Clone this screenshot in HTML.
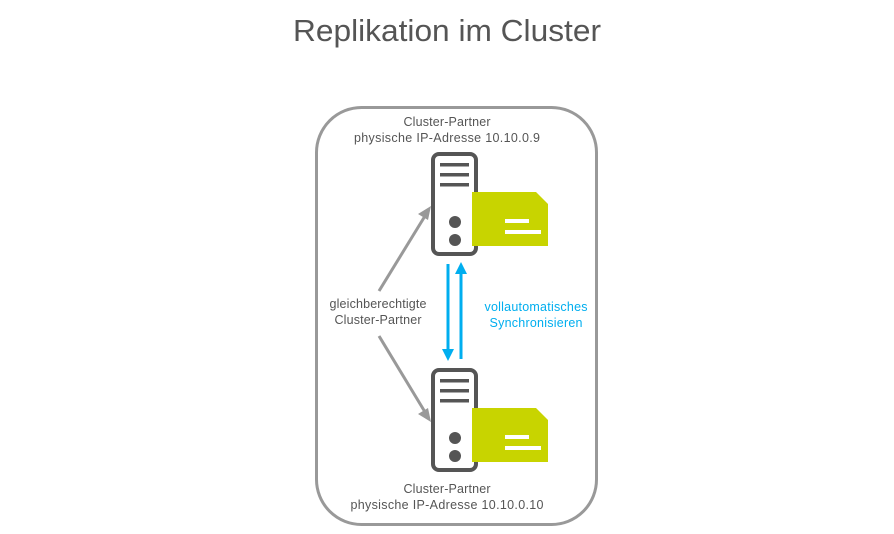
<!DOCTYPE html>
<html><head><meta charset="utf-8"><style>
body{margin:0;background:#fff;width:894px;height:529px;overflow:hidden}
svg text{font-family:"Liberation Sans",sans-serif}
</style></head><body>
<svg width="894" height="529" viewBox="0 0 894 529" xmlns="http://www.w3.org/2000/svg">
<text x="447" y="41" font-size="31" fill="#555" text-anchor="middle" textLength="308" lengthAdjust="spacingAndGlyphs">Replikation im Cluster</text>
<rect x="316.5" y="107.5" width="280" height="417" rx="45" fill="none" stroke="#999" stroke-width="3"/>
<g font-size="12.5" fill="#555" text-anchor="middle">
<text x="447" y="126" textLength="87">Cluster-Partner</text>
<text x="447" y="142" textLength="186">physische IP-Adresse  10.10.0.9</text>
<text x="447" y="493" textLength="87">Cluster-Partner</text>
<text x="447" y="509" textLength="193">physische IP-Adresse  10.10.0.10</text>
<text x="378" y="308" textLength="97">gleichberechtigte</text>
<text x="378" y="324" textLength="87">Cluster-Partner</text>
</g>
<g font-size="12.5" fill="#00aeef" text-anchor="middle">
<text x="536" y="311" textLength="103">vollautomatisches</text>
<text x="536" y="327" textLength="93">Synchronisieren</text>
</g>
<g stroke="#999" stroke-width="3" fill="#999">
<line x1="379" y1="291" x2="425" y2="216"/>
<line x1="379" y1="336" x2="425" y2="412"/>
</g>
<polygon points="431,206 418,214 428,220" fill="#999"/>
<polygon points="431,422 418,414 428,408" fill="#999"/>
<line x1="448" y1="264" x2="448" y2="350" stroke="#00aeef" stroke-width="3"/>
<polygon points="442,349 454,349 448,361" fill="#00aeef"/>
<line x1="461" y1="273" x2="461" y2="359" stroke="#00aeef" stroke-width="3"/>
<polygon points="455,274 467,274 461,262" fill="#00aeef"/>
<g id="s1">
<rect x="433" y="154" width="43" height="100" rx="6" fill="#fff" stroke="#555" stroke-width="4"/>
<rect x="440" y="163" width="29" height="3.5" fill="#555"/>
<rect x="440" y="173" width="29" height="3.5" fill="#555"/>
<rect x="440" y="183" width="29" height="3.5" fill="#555"/>
<circle cx="455" cy="222" r="6" fill="#555"/>
<circle cx="455" cy="240" r="6" fill="#555"/>
<polygon points="472,192 536,192 548,204 548,246 472,246" fill="#c8d400"/>
<rect x="505" y="219" width="24" height="4" fill="#fff"/>
<rect x="505" y="230" width="36" height="4" fill="#fff"/>
</g>
<use href="#s1" transform="translate(0,216)"/>
</svg>
</body></html>
